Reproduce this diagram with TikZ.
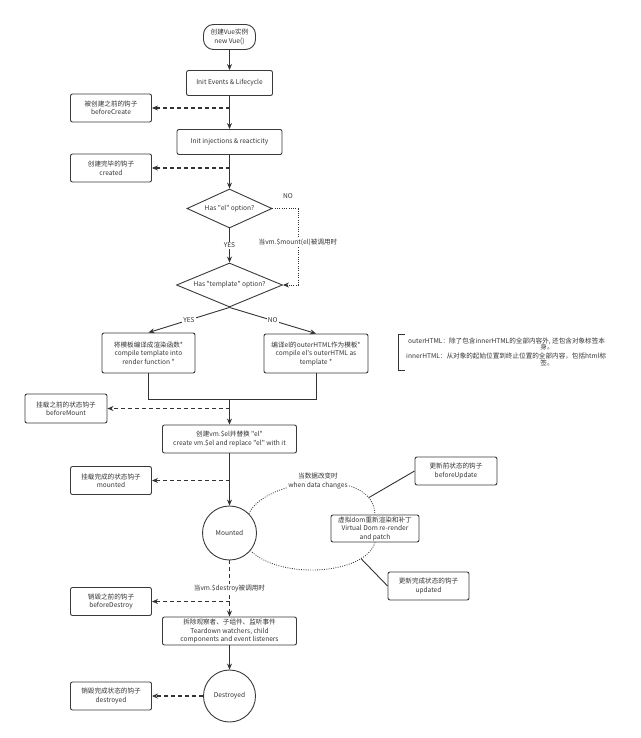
\documentclass[tikz,border=0pt]{standalone}
\usepackage{fontspec}
\setmainfont{Noto Sans CJK SC}[Ligatures=TeXOff]
\usetikzlibrary{shapes.geometric,arrows.meta}
\definecolor{linec}{HTML}{333333}
\definecolor{boxc}{HTML}{3A3A3A}
\definecolor{txtc}{HTML}{333333}
\newcommand\dgfont{\fontsize{6.6}{8.5}\selectfont}
\begin{document}
\begin{tikzpicture}[x=1pt,y=-1pt,
  box/.style={draw=boxc, line width=0.9pt, rounded corners=2pt, fill=white, align=center, inner sep=1pt, font=\dgfont, text=txtc},
  hook/.style={box, minimum width=81pt, minimum height=28pt},
  dia/.style={diamond, draw=boxc, line width=0.9pt, fill=white, align=center, inner sep=0pt, shape aspect=2.4, font=\dgfont, text=txtc},
  circ/.style={circle, draw=boxc, line width=0.9pt, fill=white, inner sep=0pt, font=\dgfont, text=txtc},
  plain/.style={draw=linec, line width=0.9pt},
  arr/.style={plain, -{Stealth[length=6pt,width=5pt]}},
  dasharr/.style={arr, line width=1.1pt, dash pattern=on 4pt off 3pt},
  dotl/.style={draw=linec, line width=0.8pt, dash pattern=on 0.9pt off 1.4pt},
  lbl/.style={fill=white, inner sep=1pt, font=\dgfont, text=txtc, align=center},
  note/.style={inner sep=0pt, font=\dgfont, text=txtc}]
\fill[white] (0,0) rectangle (640,738);
\useasboundingbox (0,0) rectangle (640,738);

% nodes
\node[box, rounded corners=10pt, minimum width=52pt, minimum height=25pt] (start) at (229.5,37) {创建Vue实例\\new Vue()};
\node[box, minimum width=86pt, minimum height=25pt] (ie) at (229.5,83) {Init Events \& Lifecycle};
\node[hook] (bc) at (111,108) {被创建之前的钩子\\beforeCreate};
\node[box, minimum width=105pt, minimum height=25pt] (ii) at (229.5,142) {Init injections \& reacticity};
\node[hook] (cr) at (111,168) {创建完毕的钩子\\created};
\node[dia, minimum width=85pt, minimum height=39pt] (hel) at (229.5,208.5) {Has "el" option?};
\node[dia, minimum width=106pt, minimum height=44pt] (htp) at (229.5,285) {Has "template" option?};
\node[box, minimum width=93pt, minimum height=40pt] (ct) at (148.5,353) {将模板编译成渲染函数*\\compile template into\\render function *};
\node[box, minimum width=104pt, minimum height=39pt] (co) at (316,353.5) {编译el的outerHTML作为模板*\\compile el's outerHTML as\\template *};
\node[box, minimum width=82pt, minimum height=29pt] (bm) at (66,408.5) {挂载之前的状态钩子\\beforeMount};
\node[box, minimum width=134pt, minimum height=28pt] (cv) at (229.5,439) {创建vm.\$el并替换 "el" \\create vm.\$el and replace "el" with it};
\node[hook] (md) at (111,480.5) {挂载完成的状态钩子\\mounted};
\node[circ, minimum size=54pt] (mt) at (229.5,533) {Mounted};
\node[box, minimum width=88pt, minimum height=27pt] (vd) at (375,528.5) {虚拟dom重新渲染和补丁\\Virtual Dom re-render\\and patch};
\node[box, minimum width=82pt, minimum height=28pt] (bu) at (456,471) {更新前状态的钩子\\beforeUpdate};
\node[hook] (up) at (428.5,586) {更新完成状态的钩子\\updated};
\node[hook] (bd) at (111,601.5) {销毁之前的钩子\\beforeDestroy};
\node[box, minimum width=134pt, minimum height=28pt] (td) at (229.5,631) {拆除观察者、子组件、监听事件\\Teardown watchers, child\\components and event listeners};
\node[circ, minimum size=52pt] (ds) at (229.5,696) {Destroyed};
\node[hook] (dd) at (111,696) {销毁完成状态的钩子\\destroyed};

% main flow
\draw[arr] (start) -- (ie);
\draw[arr] (ie) -- (ii);
\draw[dasharr] (bc.east -| ie.south) -- (bc.east);
\draw[arr] (ii) -- (hel);
\draw[dasharr] (cr.east -| ii.south) -- (cr.east);
\draw[arr] (hel) -- node[lbl]{YES} (htp);

% NO path
\coordinate (n1) at (298,208.5);
\coordinate (n2) at (298,285);
\draw[dotl, -{Stealth[length=6pt,width=5pt]}] (hel.east) -- (n1) -- node[lbl, pos=0.44]{当vm.\$mount(el)被调用时} (n2) -- (htp.east);
\node[note] (nolbl) at (288,196) {NO};

% template branches
\draw[arr] (htp.south) -- node[lbl]{YES} (ct.north);
\draw[arr] (htp.south) -- node[lbl]{NO} (co.north);
\coordinate (mj) at (229.5,399);
\draw[plain] (ct.south) -- (ct.south |- mj) -- (co.south |- mj) -- (co.south);
\draw[arr] (mj) -- (cv.north);
\draw[dasharr] (bm.east -| cv.north) -- (bm.east);

\draw[arr] (cv) -- (mt);
\draw[dasharr] (md.east -| mt.north) -- (md.east);

% update loop
\draw[dotl] (mt.45) .. controls (265,478) and (374,466) .. coordinate[pos=0.86] (c1) (vd.north);
\draw[dotl] (vd.south) .. controls (365,575) and (280,580) .. coordinate[pos=0.2] (c2) (mt.-40);
\node[lbl] (dchg) at (318,481) {当数据改变时\\when data changes};
\draw[plain] (bu.west) -- (c1);
\draw[plain] (up.west) -- (c2);

% destroy
\draw[dasharr] (mt) -- node[lbl]{当vm.\$destroy被调用时} (td);
\draw[dasharr] (bd.east -| mt.south) -- (bd.east);
\draw[arr] (td) -- (ds);
\draw[dasharr] (ds.west) -- (ds.west -| dd.east);

% note
\draw[plain] (405,334) -- (398,334) -- (398,370) -- (405,370);
\node[note, anchor=west] (o1) at (408,341) {outerHTML：除了包含innerHTML的全部内容外, 还包含对象标签本};
\node[note] (o2) at (547,347.5) {身。};
\node[note, anchor=west] (i1) at (406,356) {innerHTML：从对象的起始位置到终止位置的全部内容，包括html标};
\node[note] (i2) at (547,363) {签。};
\end{tikzpicture}
\end{document}
